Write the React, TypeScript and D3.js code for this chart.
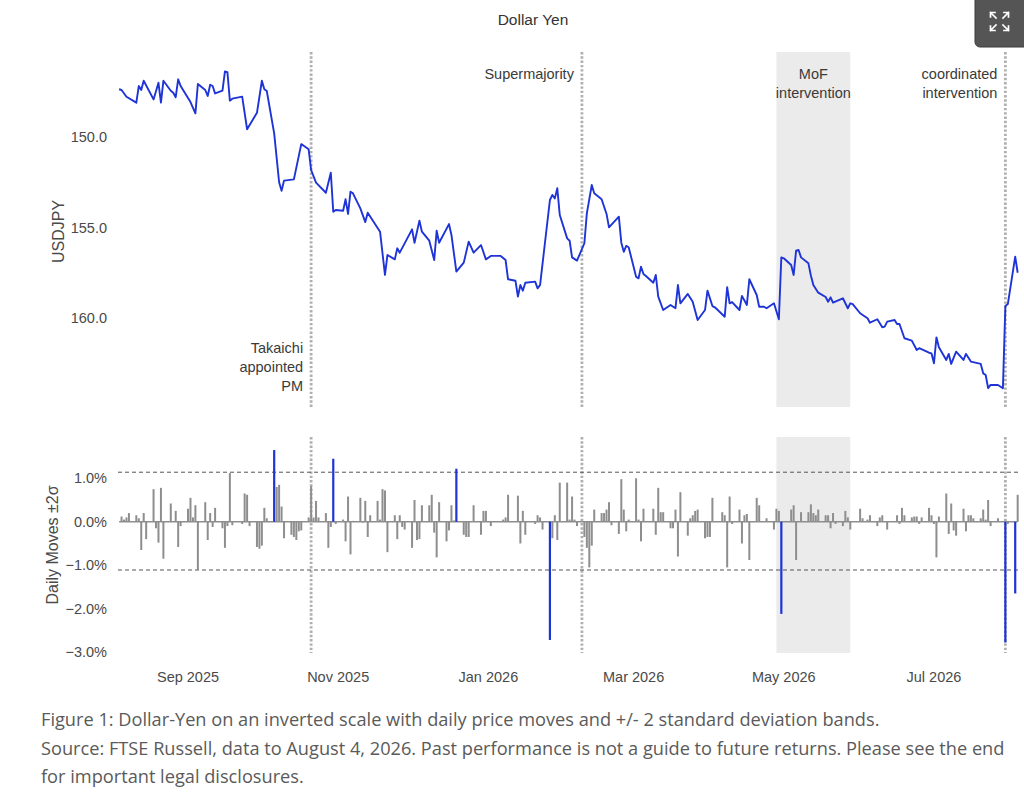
import * as d3 from 'd3'

// USDJPY closes (inverted scale)
const usdjpy: [string, number][] = [
  ['2025-08-04', 147.36], ['2025-08-05', 147.40], ['2025-08-07', 147.77], ['2025-08-11', 148.10],
  ['2025-08-12', 147.18], ['2025-08-13', 147.40], ['2025-08-14', 146.89], ['2025-08-18', 147.92],
  ['2025-08-20', 147.00], ['2025-08-21', 148.10], ['2025-08-22', 146.89], ['2025-08-25', 147.44],
  ['2025-08-26', 147.55], ['2025-08-27', 147.80], ['2025-08-28', 146.81], ['2025-08-29', 147.18],
  ['2025-09-02', 148.07], ['2025-09-04', 148.69], ['2025-09-05', 147.07], ['2025-09-08', 147.40],
  ['2025-09-09', 147.73], ['2025-09-10', 147.11], ['2025-09-11', 147.18], ['2025-09-12', 147.59],
  ['2025-09-15', 147.44], ['2025-09-16', 146.37], ['2025-09-17', 146.41], ['2025-09-18', 147.99],
  ['2025-09-19', 147.88], ['2025-09-23', 147.77], ['2025-09-25', 149.57], ['2025-09-29', 148.66],
  ['2025-10-01', 146.89], ['2025-10-02', 147.36], ['2025-10-03', 147.46], ['2025-10-06', 149.80],
  ['2025-10-08', 152.50], ['2025-10-09', 152.97], ['2025-10-10', 152.41], ['2025-10-14', 152.34],
  ['2025-10-17', 150.39], ['2025-10-20', 150.68], ['2025-10-21', 151.82], ['2025-10-23', 152.52],
  ['2025-10-27', 153.08], ['2025-10-29', 151.97], ['2025-10-30', 154.13], ['2025-10-31', 154.03],
  ['2025-11-03', 154.07], ['2025-11-04', 153.44], ['2025-11-05', 154.25], ['2025-11-06', 153.02],
  ['2025-11-07', 153.11], ['2025-11-10', 153.94], ['2025-11-12', 154.70], ['2025-11-13', 154.18],
  ['2025-11-18', 155.23], ['2025-11-20', 157.62], ['2025-11-21', 156.52], ['2025-11-24', 156.76],
  ['2025-11-25', 156.15], ['2025-11-26', 156.39], ['2025-12-01', 155.10], ['2025-12-02', 155.84],
  ['2025-12-04', 154.62], ['2025-12-05', 155.23], ['2025-12-08', 155.73], ['2025-12-10', 156.80],
  ['2025-12-11', 155.18], ['2025-12-12', 155.84], ['2025-12-16', 154.81], ['2025-12-17', 155.41],
  ['2025-12-19', 157.44], ['2025-12-22', 156.94], ['2025-12-24', 155.78], ['2025-12-26', 156.39],
  ['2025-12-29', 155.97], ['2025-12-31', 156.76], ['2026-01-02', 156.57], ['2026-01-06', 156.57],
  ['2026-01-08', 156.80], ['2026-01-09', 157.86], ['2026-01-12', 157.94], ['2026-01-13', 158.82],
  ['2026-01-14', 158.18], ['2026-01-15', 158.49], ['2026-01-16', 158.05], ['2026-01-20', 157.99],
  ['2026-01-21', 158.36], ['2026-01-22', 158.18], ['2026-01-26', 153.48], ['2026-01-27', 153.20],
  ['2026-01-28', 153.39], ['2026-01-29', 152.83], ['2026-01-30', 154.31], ['2026-02-02', 155.60],
  ['2026-02-03', 155.73], ['2026-02-04', 156.65], ['2026-02-06', 156.83], ['2026-02-09', 155.87],
  ['2026-02-10', 154.22], ['2026-02-12', 152.65], ['2026-02-13', 153.11], ['2026-02-16', 153.44],
  ['2026-02-18', 154.25], ['2026-02-19', 154.99], ['2026-02-23', 154.40], ['2026-02-24', 155.84],
  ['2026-02-25', 156.34], ['2026-02-26', 156.02], ['2026-02-27', 156.09], ['2026-03-02', 157.72],
  ['2026-03-03', 157.81], ['2026-03-04', 157.17], ['2026-03-05', 157.57], ['2026-03-06', 157.68],
  ['2026-03-09', 158.05], ['2026-03-10', 157.62], ['2026-03-11', 158.82], ['2026-03-13', 159.56],
  ['2026-03-16', 159.28], ['2026-03-18', 159.46], ['2026-03-19', 158.18], ['2026-03-20', 159.19],
  ['2026-03-23', 158.67], ['2026-03-25', 159.10], ['2026-03-27', 160.11], ['2026-03-30', 159.56],
  ['2026-03-31', 158.49], ['2026-04-02', 159.34], ['2026-04-03', 159.41], ['2026-04-07', 159.93],
  ['2026-04-08', 158.30], ['2026-04-09', 159.19], ['2026-04-10', 159.12], ['2026-04-13', 159.56],
  ['2026-04-14', 158.78], ['2026-04-16', 159.28], ['2026-04-17', 157.86], ['2026-04-20', 158.73],
  ['2026-04-21', 159.38], ['2026-04-23', 159.38], ['2026-04-24', 159.46], ['2026-04-27', 159.19],
  ['2026-04-29', 160.07], ['2026-04-30', 156.65], ['2026-05-01', 156.70], ['2026-05-04', 157.07],
  ['2026-05-05', 157.62], ['2026-05-06', 156.28], ['2026-05-07', 156.24], ['2026-05-08', 156.65],
  ['2026-05-11', 156.98], ['2026-05-12', 157.65], ['2026-05-13', 158.18], ['2026-05-15', 158.60],
  ['2026-05-18', 158.84], ['2026-05-19', 159.10], ['2026-05-20', 158.86], ['2026-05-21', 159.15],
  ['2026-05-25', 158.91], ['2026-05-27', 159.46], ['2026-05-28', 159.19], ['2026-05-29', 159.23],
  ['2026-06-01', 159.74], ['2026-06-04', 160.02], ['2026-06-05', 160.26], ['2026-06-08', 160.07],
  ['2026-06-10', 160.51], ['2026-06-11', 160.48], ['2026-06-12', 160.20], ['2026-06-15', 160.11],
  ['2026-06-16', 160.33], ['2026-06-17', 160.33], ['2026-06-19', 161.12], ['2026-06-22', 161.25],
  ['2026-06-24', 161.77], ['2026-06-25', 161.67], ['2026-06-29', 161.92], ['2026-06-30', 161.96],
  ['2026-07-01', 162.50], ['2026-07-02', 161.07], ['2026-07-03', 161.62], ['2026-07-06', 162.32],
  ['2026-07-07', 161.99], ['2026-07-08', 162.54], ['2026-07-10', 161.86], ['2026-07-13', 162.32],
  ['2026-07-14', 161.99], ['2026-07-16', 162.41], ['2026-07-20', 162.54], ['2026-07-21', 163.06],
  ['2026-07-22', 163.15], ['2026-07-23', 163.88], ['2026-07-24', 163.70], ['2026-07-27', 163.70],
  ['2026-07-29', 163.88], ['2026-07-30', 159.34], ['2026-07-31', 159.23], ['2026-08-03', 156.61],
  ['2026-08-04', 157.50],
]

// daily % moves
const dailyMoves: [string, number][] = [
  ['2025-08-05', 0.12], ['2025-08-06', 0.05], ['2025-08-07', 0.10], ['2025-08-08', 0.20],
  ['2025-08-11', 0.15], ['2025-08-12', 0.08], ['2025-08-13', -0.65], ['2025-08-14', 0.20],
  ['2025-08-15', -0.40], ['2025-08-18', 0.75], ['2025-08-19', -0.15], ['2025-08-20', -0.48],
  ['2025-08-21', 0.78], ['2025-08-22', -0.85], ['2025-08-25', 0.42], ['2025-08-27', 0.25],
  ['2025-08-28', -0.58], ['2025-08-29', -0.10], ['2025-09-01', 0.30], ['2025-09-02', 0.55],
  ['2025-09-03', 0.10], ['2025-09-04', 0.38], ['2025-09-05', -1.11], ['2025-09-08', 0.45],
  ['2025-09-09', -0.42], ['2025-09-10', 0.20], ['2025-09-11', -0.12], ['2025-09-12', 0.32],
  ['2025-09-15', -0.15], ['2025-09-16', -0.60], ['2025-09-17', -0.10], ['2025-09-18', 1.12],
  ['2025-09-19', -0.08], ['2025-09-23', -0.05], ['2025-09-24', 0.65], ['2025-09-25', 0.62],
  ['2025-09-26', -0.10], ['2025-09-29', -0.58], ['2025-09-30', -0.62], ['2025-10-01', -0.55],
  ['2025-10-02', 0.32], ['2025-10-03', 0.08], ['2025-10-06', 1.65], ['2025-10-07', 0.80],
  ['2025-10-08', 0.85], ['2025-10-09', 0.35], ['2025-10-10', -0.38], ['2025-10-13', -0.30],
  ['2025-10-14', -0.35], ['2025-10-15', -0.42], ['2025-10-16', -0.22], ['2025-10-17', -0.20],
  ['2025-10-20', 0.10], ['2025-10-21', 0.82], ['2025-10-22', 0.10], ['2025-10-23', 0.48],
  ['2025-10-24', 0.10], ['2025-10-27', 0.20], ['2025-10-28', -0.60], ['2025-10-29', -0.12],
  ['2025-10-30', 1.45], ['2025-10-31', -0.05], ['2025-11-03', 0.05], ['2025-11-04', -0.45],
  ['2025-11-05', 0.58], ['2025-11-06', -0.75], ['2025-11-07', 0.02], ['2025-11-10', 0.55],
  ['2025-11-11', -0.02], ['2025-11-12', 0.48], ['2025-11-13', -0.35], ['2025-11-14', 0.15],
  ['2025-11-17', 0.48], ['2025-11-18', 0.05], ['2025-11-19', 0.75], ['2025-11-20', 0.72],
  ['2025-11-21', -0.70], ['2025-11-24', 0.15], ['2025-11-25', -0.40], ['2025-11-26', 0.15],
  ['2025-11-27', -0.12], ['2025-11-28', -0.18], ['2025-12-01', -0.60], ['2025-12-02', 0.50],
  ['2025-12-03', -0.42], ['2025-12-04', -0.40], ['2025-12-05', 0.38], ['2025-12-08', 0.38],
  ['2025-12-09', 0.62], ['2025-12-10', -0.25], ['2025-12-11', -0.82], ['2025-12-12', 0.45],
  ['2025-12-15', -0.45], ['2025-12-16', -0.20], ['2025-12-17', 0.38], ['2025-12-18', 0.03],
  ['2025-12-19', 1.22], ['2025-12-22', -0.30], ['2025-12-23', -0.35], ['2025-12-24', -0.35],
  ['2025-12-26', 0.38], ['2025-12-29', -0.30], ['2025-12-30', 0.25], ['2025-12-31', 0.25],
  ['2026-01-02', -0.10], ['2026-01-07', 0.05], ['2026-01-08', 0.10], ['2026-01-09', 0.62],
  ['2026-01-13', 0.60], ['2026-01-14', -0.50], ['2026-01-15', 0.25], ['2026-01-16', -0.30],
  ['2026-01-20', -0.05], ['2026-01-21', 0.15], ['2026-01-22', 0.10], ['2026-01-23', -0.18],
  ['2026-01-26', -2.72], ['2026-01-27', -0.38], ['2026-01-28', 0.15], ['2026-01-29', -0.42],
  ['2026-01-30', 0.90], ['2026-02-02', 0.90], ['2026-02-03', 0.05], ['2026-02-04', 0.58],
  ['2026-02-05', 0.05], ['2026-02-06', -0.10], ['2026-02-09', -0.35], ['2026-02-10', -0.60],
  ['2026-02-11', -1.05], ['2026-02-12', -0.55], ['2026-02-13', 0.28], ['2026-02-16', 0.20],
  ['2026-02-17', 0.20], ['2026-02-18', 0.28], ['2026-02-19', 0.45], ['2026-02-20', -0.08],
  ['2026-02-23', -0.28], ['2026-02-24', 0.98], ['2026-02-25', 0.28], ['2026-02-26', -0.22],
  ['2026-02-27', 0.05], ['2026-03-02', 1.00], ['2026-03-03', 0.05], ['2026-03-04', -0.45],
  ['2026-03-05', 0.30], ['2026-03-09', 0.30], ['2026-03-10', -0.30], ['2026-03-11', 0.78],
  ['2026-03-12', 0.22], ['2026-03-13', 0.22], ['2026-03-16', -0.15], ['2026-03-17', -0.15],
  ['2026-03-18', 0.28], ['2026-03-19', -0.80], ['2026-03-20', 0.68], ['2026-03-23', -0.32],
  ['2026-03-24', 0.08], ['2026-03-25', 0.15], ['2026-03-26', 0.25], ['2026-03-27', 0.28],
  ['2026-03-30', -0.38], ['2026-03-31', -0.35], ['2026-04-01', -0.35], ['2026-04-02', 0.55],
  ['2026-04-06', 0.22], ['2026-04-07', 0.15], ['2026-04-08', -1.05], ['2026-04-09', 0.58],
  ['2026-04-10', -0.05], ['2026-04-13', 0.28], ['2026-04-14', -0.50], ['2026-04-15', 0.15],
  ['2026-04-16', 0.18], ['2026-04-17', -0.88], ['2026-04-20', 0.55], ['2026-04-21', 0.38],
  ['2026-04-24', 0.08], ['2026-04-27', -0.18], ['2026-04-28', 0.30], ['2026-04-29', 0.25],
  ['2026-04-30', -2.12], ['2026-05-04', 0.28], ['2026-05-05', 0.38], ['2026-05-06', -0.88],
  ['2026-05-08', 0.22], ['2026-05-11', 0.22], ['2026-05-12', 0.40], ['2026-05-13', 0.20],
  ['2026-05-14', 0.15], ['2026-05-15', 0.28], ['2026-05-18', 0.15], ['2026-05-19', 0.15],
  ['2026-05-20', -0.15], ['2026-05-21', 0.20], ['2026-05-22', -0.05], ['2026-05-25', -0.10],
  ['2026-05-26', 0.25], ['2026-05-27', 0.10], ['2026-05-28', -0.18], ['2026-06-01', 0.30],
  ['2026-06-02', 0.08], ['2026-06-04', 0.05], ['2026-06-05', 0.15], ['2026-06-08', -0.10],
  ['2026-06-09', 0.10], ['2026-06-10', 0.15], ['2026-06-12', -0.18], ['2026-06-16', 0.15],
  ['2026-06-17', -0.05], ['2026-06-18', 0.32], ['2026-06-19', 0.15], ['2026-06-22', 0.10],
  ['2026-06-23', 0.12], ['2026-06-24', 0.12], ['2026-06-25', -0.05], ['2026-06-26', 0.10],
  ['2026-06-29', 0.32], ['2026-06-30', 0.15], ['2026-07-01', -0.05], ['2026-07-02', -0.82],
  ['2026-07-03', 0.12], ['2026-07-06', 0.65], ['2026-07-07', -0.28], ['2026-07-08', 0.42],
  ['2026-07-09', -0.20], ['2026-07-10', -0.32], ['2026-07-13', 0.30], ['2026-07-14', -0.22],
  ['2026-07-15', 0.15], ['2026-07-16', 0.15], ['2026-07-17', 0.08], ['2026-07-20', 0.08],
  ['2026-07-21', 0.28], ['2026-07-22', 0.05], ['2026-07-23', 0.50], ['2026-07-24', -0.10],
  ['2026-07-27', 0.08], ['2026-07-30', -2.78], ['2026-07-31', -0.05], ['2026-08-03', -1.65],
  ['2026-08-04', 0.62],
]

const bandUpper = 1.14
const bandLower = -1.11

const events: { date: string; lines: string[]; anchor: 'end' | 'middle'; where: 'top' | 'bottom' }[] = [
  { date: '2025-10-21', lines: ['Takaichi', 'appointed', 'PM'], anchor: 'end', where: 'bottom' },
  { date: '2026-02-08', lines: ['Supermajority'], anchor: 'end', where: 'top' },
  { date: '2026-07-30', lines: ['coordinated', 'intervention'], anchor: 'end', where: 'top' },
]
const mofWindow = ['2026-04-28', '2026-05-28']
const mofLabel = ['MoF', 'intervention']

const xTicks = ['2025-09-01', '2025-11-01', '2026-01-01', '2026-03-01', '2026-05-01', '2026-07-01']
const priceTicks = [150, 155, 160]
const moveTicks = [1, 0, -1, -2, -3]

const caption = [
  'Figure 1: Dollar-Yen on an inverted scale with daily price moves and +/- 2 standard deviation bands.',
  'Source: FTSE Russell, data to August 4, 2026. Past performance is not a guide to future returns. Please see the end',
  'for important legal disclosures.',
]

const BLUE = '#1f34d6'
const GREY_BAR = '#8e8e8e'
const TXT = '#4a4a4a'
const FONT = '"Liberation Sans", Arial, sans-serif'

const parse = d3.utcParse('%Y-%m-%d')
const dt = (s: string) => parse(s) as Date

export default function App() {
  const W = 1024, H = 796
  const top = { y0: 52, y1: 407 }
  const bot = { y0: 437, y1: 653 }

  const x = d3.scaleUtc([dt('2025-08-01'), dt('2026-08-06')], [111.7, 1022.6])
  const yP = d3.scaleLinear([145.3, 164.92], [top.y0, top.y1])
  const yM = d3.scaleLinear([1.95, -3.02], [bot.y0, bot.y1])

  const line = d3.line<[string, number]>()
    .x((d) => x(dt(d[0])))
    .y((d) => yP(d[1]))

  const pctFmt = (v: number) => d3.format('.1f')(v).replace('-', '\u2212') + '%'
  const monthFmt = d3.utcFormat('%b %Y')

  const mx0 = x(dt(mofWindow[0])), mx1 = x(dt(mofWindow[1]))
  const firstX = x(dt(usdjpy[0][0])), lastX = x(dt(usdjpy[usdjpy.length - 1][0]))

  return (
    <div style={{ position: 'absolute', left: 0, top: 0, width: W, height: H, background: '#fff' }}>
      <svg width={W} height={H} viewBox={`0 0 ${W} ${H}`} style={{ display: 'block' }}>
        <text x={533} y={25} textAnchor="middle" fontFamily={FONT} fontSize={15.5} fill="#333">Dollar Yen</text>

        {/* MoF shading */}
        <rect x={mx0} y={top.y0} width={mx1 - mx0} height={top.y1 - top.y0} fill="#ebebeb" />
        <rect x={mx0} y={bot.y0} width={mx1 - mx0} height={bot.y1 - bot.y0} fill="#ebebeb" />

        {/* event lines */}
        {events.map((e) => (
          <g key={e.date}>
            <line x1={x(dt(e.date))} x2={x(dt(e.date))} y1={top.y0} y2={top.y1}
              stroke="#b0b0b0" strokeWidth={2.8} strokeDasharray="2.4,1.9" />
            <line x1={x(dt(e.date))} x2={x(dt(e.date))} y1={bot.y0} y2={bot.y1}
              stroke="#b0b0b0" strokeWidth={2.8} strokeDasharray="2.4,1.9" />
          </g>
        ))}

        {/* price panel */}
        {priceTicks.map((t) => (
          <text key={t} x={107} y={yP(t)} dy="0.35em" textAnchor="end" fontFamily={FONT} fontSize={14.5} fill={TXT}>
            {d3.format('.1f')(t)}
          </text>
        ))}
        <text transform={`translate(64,${(top.y0 + top.y1) / 2 + 2}) rotate(-90)`} textAnchor="middle"
          fontFamily={FONT} fontSize={16} fill={TXT}>USDJPY</text>
        <path d={line(usdjpy) ?? ''} fill="none" stroke={BLUE} strokeWidth={1.9} strokeLinejoin="round" />

        {/* annotations */}
        {events.map((e) => {
          const ex = x(dt(e.date))
          const base = e.where === 'top' ? 79 : 353
          return (
            <text key={'a' + e.date} fontFamily={FONT} fontSize={14.5} fill="#3a3a3a" textAnchor={e.anchor}>
              {e.lines.map((l, i) => (
                <tspan key={l} x={ex - 8} y={base + i * 19}>{l}</tspan>
              ))}
            </text>
          )
        })}
        <text fontFamily={FONT} fontSize={14.5} fill="#3a3a3a" textAnchor="middle">
          {mofLabel.map((l, i) => (
            <tspan key={l} x={(mx0 + mx1) / 2} y={79 + i * 19}>{l}</tspan>
          ))}
        </text>

        {/* moves panel */}
        {moveTicks.map((t) => (
          <text key={t} x={107} y={yM(t)} dy="0.35em" textAnchor="end" fontFamily={FONT} fontSize={14.5} fill={TXT}>
            {pctFmt(t)}
          </text>
        ))}
        <text transform={`translate(58,${(bot.y0 + bot.y1) / 2}) rotate(-90)`} textAnchor="middle"
          fontFamily={FONT} fontSize={16} fill={TXT}>Daily Moves ±2σ</text>
        {[bandUpper, bandLower].map((b) => (
          <line key={b} x1={118} x2={1020} y1={yM(b)} y2={yM(b)} stroke="#555" strokeWidth={1} strokeDasharray="4,3" />
        ))}
        <line x1={firstX} x2={lastX} y1={yM(0)} y2={yM(0)} stroke={GREY_BAR} strokeWidth={1.5} />
        {dailyMoves.map(([d, v]) => {
          const big = v > bandUpper || v < bandLower
          const cx = x(dt(d))
          return (
            <rect key={d} x={cx - (big ? 1.1 : 1)} width={big ? 2.2 : 2}
              y={Math.min(yM(0), yM(v))} height={Math.abs(yM(v) - yM(0))}
              fill={big ? BLUE : GREY_BAR} />
          )
        })}

        {/* x axis */}
        {xTicks.map((t) => (
          <text key={t} x={x(dt(t))} y={682} textAnchor="middle" fontFamily={FONT} fontSize={14.5} fill={TXT}>
            {monthFmt(dt(t))}
          </text>
        ))}

        {/* caption */}
        {caption.map((c, i) => (
          <text key={i} x={41} y={726 + i * 28.5} fontFamily="'Open Sans', Lato, sans-serif" fontSize={18.2} fill="#5a5a5a">{c}</text>
        ))}

        {/* expand button */}
        <rect x={975} y={-6} width={60} height={53} rx={5} fill="#555" stroke="#3d3d3d" />
        <g stroke="#fff" strokeWidth={1.7} fill="none" strokeLinecap="square">
          <path d="M996,18 L990.5,12.5 M990.5,17 L990.5,12.5 L995,12.5" />
          <path d="M1003,18 L1008.5,12.5 M1004,12.5 L1008.5,12.5 L1008.5,17" />
          <path d="M996,25 L990.5,30.5 M990.5,26 L990.5,30.5 L995,30.5" />
          <path d="M1003,25 L1008.5,30.5 M1004,30.5 L1008.5,30.5 L1008.5,26" />
        </g>
      </svg>
    </div>
  )
}
